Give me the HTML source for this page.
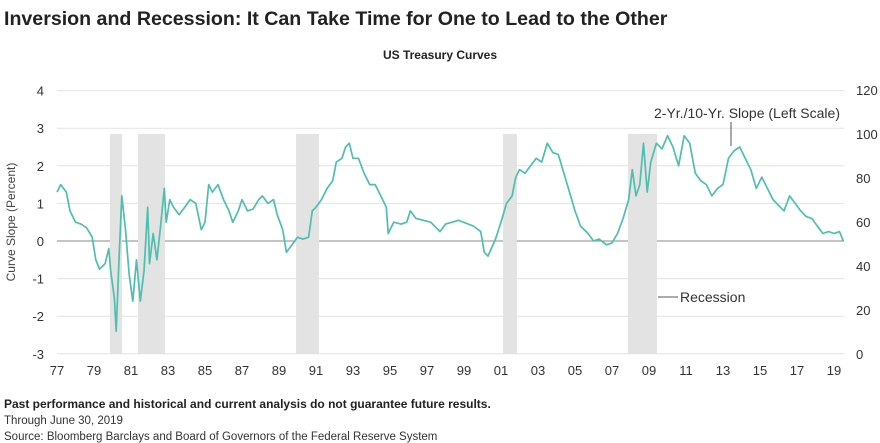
<!DOCTYPE html>
<html><head><meta charset="utf-8"><style>
body{margin:0;width:880px;height:443px;background:#fff;font-family:"Liberation Sans",sans-serif;overflow:hidden}
svg{position:absolute;left:0;top:0}
</style></head><body>
<svg width="880" height="443">
<text x="4" y="25" font-size="19.6" font-weight="bold" fill="#222">Inversion and Recession: It Can Take Time for One to Lead to the Other</text>
<text x="440" y="59" font-size="12" font-weight="bold" text-anchor="middle" fill="#222">US Treasury Curves</text>
<g id="grid"></g><g id="rec"></g><g id="axes"></g>
<polyline id="line" fill="none" stroke="#4dbfae" stroke-width="1.7" stroke-linejoin="round"/>
<text x="15" y="222" font-size="12" fill="#444" transform="rotate(-90 15 222)" text-anchor="middle">Curve Slope (Percent)</text>
<text x="654" y="118" font-size="14" fill="#333">2-Yr./10-Yr. Slope (Left Scale)</text>
<line x1="731" y1="122" x2="731" y2="146" stroke="#555" stroke-width="1"/>
<line x1="658" y1="297" x2="678" y2="297" stroke="#555" stroke-width="1"/>
<text x="680" y="302" font-size="14" fill="#333">Recession</text>
<text x="4" y="408" font-size="12" font-weight="bold" fill="#222">Past performance and historical and current analysis do not guarantee future results.</text>
<text x="4" y="424" font-size="11.5" fill="#333">Through June 30, 2019</text>
<text x="4" y="440" font-size="11.5" fill="#333">Source: Bloomberg Barclays and Board of Governors of the Federal Reserve System</text>
</svg>
<script>
const leftTicks=[4,3,2,1,0,-1,-2,-3];
const rightTicks=[120,100,80,60,40,20,0];
const xTickYears=[1977,1979,1981,1983,1985,1987,1989,1991,1993,1995,1997,1999,2001,2003,2005,2007,2009,2011,2013,2015,2017,2019];
const recessionStarts=[1979.86,1981.38,1989.92,2001.11,2007.86];
const recessionEnds=[1980.51,1982.84,1991.16,2001.86,2009.43];
const years=[1977.0,1977.2,1977.5,1977.7,1978.0,1978.3,1978.6,1978.9,1979.1,1979.3,1979.6,1979.8,1979.9,1980.1,1980.2,1980.35,1980.5,1980.7,1980.9,1981.1,1981.3,1981.5,1981.7,1981.9,1982.0,1982.2,1982.4,1982.6,1982.8,1982.9,1983.1,1983.3,1983.6,1983.9,1984.2,1984.5,1984.8,1985.0,1985.2,1985.4,1985.7,1986.0,1986.3,1986.5,1986.8,1987.0,1987.3,1987.6,1987.9,1988.1,1988.4,1988.7,1988.9,1989.2,1989.4,1989.7,1990.0,1990.3,1990.6,1990.8,1991.0,1991.3,1991.6,1991.9,1992.1,1992.4,1992.6,1992.8,1993.0,1993.3,1993.6,1993.9,1994.2,1994.5,1994.8,1994.9,1995.2,1995.6,1995.9,1996.1,1996.4,1996.8,1997.2,1997.7,1998.0,1998.7,1999.5,1999.9,2000.1,2000.3,2000.7,2001.0,2001.3,2001.6,2001.8,2002.0,2002.3,2002.6,2002.9,2003.2,2003.5,2003.8,2004.1,2004.4,2004.7,2005.0,2005.3,2005.7,2006.0,2006.3,2006.7,2007.0,2007.3,2007.6,2007.9,2008.1,2008.3,2008.5,2008.7,2008.9,2009.1,2009.4,2009.7,2010.0,2010.3,2010.6,2010.9,2011.2,2011.5,2011.8,2012.1,2012.4,2012.7,2013.0,2013.3,2013.6,2013.9,2014.2,2014.5,2014.8,2015.1,2015.4,2015.7,2016.0,2016.3,2016.6,2016.9,2017.2,2017.5,2017.8,2018.1,2018.4,2018.7,2019.0,2019.3,2019.5];
const slope=[1.3,1.5,1.3,0.8,0.5,0.45,0.35,0.1,-0.5,-0.75,-0.6,-0.2,-0.8,-1.5,-2.4,-0.5,1.2,0.3,-0.9,-1.6,-0.5,-1.6,-0.8,0.9,-0.6,0.2,-0.5,0.4,1.4,0.5,1.1,0.9,0.7,0.9,1.1,1.0,0.3,0.5,1.5,1.3,1.5,1.1,0.8,0.5,0.8,1.1,0.8,0.85,1.1,1.2,1.0,1.1,0.7,0.3,-0.3,-0.1,0.1,0.05,0.1,0.8,0.9,1.1,1.4,1.6,2.1,2.2,2.5,2.6,2.2,2.2,1.8,1.5,1.5,1.2,0.9,0.2,0.5,0.45,0.5,0.8,0.6,0.55,0.5,0.25,0.45,0.55,0.4,0.25,-0.3,-0.4,0.05,0.5,1.0,1.2,1.7,1.9,1.8,2.0,2.2,2.1,2.6,2.35,2.3,1.8,1.3,0.8,0.4,0.2,0.0,0.05,-0.1,-0.05,0.2,0.6,1.1,1.9,1.2,1.5,2.6,1.3,2.1,2.6,2.45,2.8,2.5,2.0,2.8,2.6,1.8,1.6,1.5,1.2,1.4,1.5,2.2,2.4,2.5,2.2,1.9,1.4,1.7,1.4,1.1,0.95,0.8,1.2,1.0,0.8,0.65,0.6,0.4,0.2,0.25,0.2,0.25,0.0];
const x0=57,x1=844,yr0=1977,pxYr=18.5;
const xs=y=>x0+(y-yr0)*pxYr;
const ys=v=>241-37.6*v;
const yr=v=>354-v*(264/120);
const NS='http://www.w3.org/2000/svg';
function mk(t,a,p){const e=document.createElementNS(NS,t);for(const k in a)e.setAttribute(k,a[k]);p.appendChild(e);return e;}
const grid=document.getElementById('grid'),axes=document.getElementById('axes'),rec=document.getElementById('rec');
leftTicks.forEach(v=>{
 const l=mk('line',{x1:x0,x2:x1,y1:ys(v),y2:ys(v),stroke:v===0?'#888':'#e2e2e2','stroke-width':1},grid);
 
 
 const t=mk('text',{x:44,y:ys(v)+5,'font-size':13,fill:'#333','text-anchor':'end'},axes);t.textContent=v;
 
 
});
rightTicks.forEach(v=>{
 const t=mk('text',{x:856,y:yr(v)+5,'font-size':13,fill:'#333'},axes);t.textContent=v;
 
 
});
xTickYears.forEach(y=>{
 const t=mk('text',{x:xs(y),y:375,'font-size':13,fill:'#333','text-anchor':'middle'},axes);t.textContent=String(y).slice(2);
 
 
});
recessionStarts.forEach((s,i)=>{
 const r=mk('rect',{x:xs(s),y:134,width:xs(recessionEnds[i])-xs(s),height:220,fill:'#e3e3e3'},rec);
 
 
});
document.getElementById('line').setAttribute('points',years.map((y,i)=>xs(y).toFixed(1)+','+ys(slope[i]).toFixed(1)).join(' '));
</script>
</body></html>
